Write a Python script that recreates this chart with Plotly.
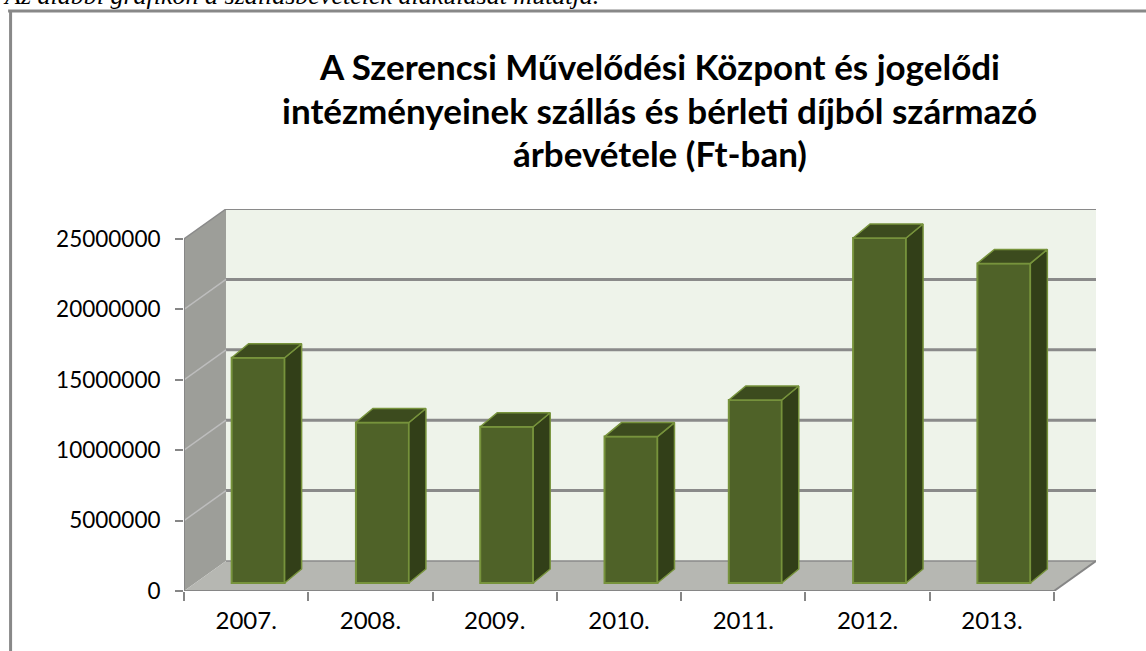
import plotly.graph_objects as go

# ---------------- data ----------------
categories = ["2007.", "2008.", "2009.", "2010.", "2011.", "2012.", "2013."]
revenue = [16000000, 11400000, 11100000, 10400000, 13000000, 24500000, 22700000]
y_tick_values = [0, 5000000, 10000000, 15000000, 20000000, 25000000]
y_tick_labels = ["0", "5000000", "10000000", "15000000", "20000000", "25000000"]
title_lines = [
    "A Szerencsi Művelődési Központ és jogelődi",
    "intézményeinek szállás és bérleti díjból származó",
    "árbevétele (Ft-ban)",
]
intro_text = "Az alábbi grafikon a szállásbevételek alakulását mutatja."

# ---------------- geometry (pixels) ----------------
W, H = 1146, 651
PL, PB = 184, 591            # front-plane origin in px
CAT_PX = 124.35              # px per category
VAL_PX = 14.08 / 1e6         # px per unit value
DEPTH_PX_X, DEPTH_PX_Y = 42, 30
FRONT_PX_X, FRONT_PX_Y = 12, 8
BAR_W_PX = 53
BAR_D_PX_X, BAR_D_PX_Y = 17, 14

n = len(categories)
ymax = y_tick_values[-1]
DX = DEPTH_PX_X / CAT_PX
DY = DEPTH_PX_Y / VAL_PX
x_range = [0, n + DX]
y_range = [0, ymax + DY]
plot_w = (n + DX) * CAT_PX
plot_h = (ymax + DY) * VAL_PX
PT = PB - plot_h
margin_r = W - PL - plot_w


def px2paper(px, py):
    return (px - PL) / plot_w, (PB - py) / plot_h


# colours
BACK_WALL = "#EEF3EA"
SIDE_WALL = "#9D9E99"
FLOOR = "#B6B7B2"
GRID = "#8A8A8A"
SIDE_GRID = "#BDBDBD"
AXIS = "#868686"
BAR_FRONT = "#4F6228"
BAR_SIDE = "#323F18"
BAR_TOP = "#3C4B1E"
BAR_EDGE = "#77933C"

shapes = []


def path(points):
    return "M " + " L ".join(f"{x},{y}" for x, y in points) + " Z"


# walls
shapes.append(dict(type="path", xref="x", yref="y", layer="below", line=dict(width=0),
                   fillcolor=BACK_WALL,
                   path=path([(DX, DY), (n + DX, DY), (n + DX, ymax + DY), (DX, ymax + DY)])))
shapes.append(dict(type="path", xref="x", yref="y", layer="below", line=dict(width=0),
                   fillcolor=SIDE_WALL,
                   path=path([(0, 0), (DX, DY), (DX, ymax + DY), (0, ymax)])))
shapes.append(dict(type="path", xref="x", yref="y", layer="below", line=dict(width=0),
                   fillcolor=FLOOR,
                   path=path([(0, 0), (n, 0), (n + DX, DY), (DX, DY)])))

# back wall grid lines
for v in y_tick_values[1:]:
    shapes.append(dict(type="line", xref="x", yref="y", layer="below",
                       x0=DX, x1=n + DX, y0=v + DY, y1=v + DY,
                       line=dict(color=GRID, width=3 if v < ymax else 2)))
shapes.append(dict(type="line", xref="x", yref="y", layer="below",
                   x0=DX, x1=n + DX, y0=DY, y1=DY, line=dict(color=GRID, width=1.5)))
# side wall grid lines
for v in y_tick_values[1:-1]:
    shapes.append(dict(type="line", xref="x", yref="y", layer="below",
                       x0=0, x1=DX, y0=v, y1=v + DY, line=dict(color=SIDE_GRID, width=1.5)))
# side wall top edge
shapes.append(dict(type="line", xref="x", yref="y", layer="below",
                   x0=0, x1=DX, y0=ymax, y1=ymax + DY, line=dict(color=GRID, width=1.5)))
# floor right edge
shapes.append(dict(type="line", xref="x", yref="y", layer="below",
                   x0=n, x1=n + DX, y0=0, y1=DY, line=dict(color=AXIS, width=2)))
# front axes lines
shapes.append(dict(type="line", xref="x", yref="y", layer="above",
                   x0=0, x1=0, y0=0, y1=ymax, line=dict(color=AXIS, width=2)))
shapes.append(dict(type="line", xref="x", yref="y", layer="above",
                   x0=0, x1=n, y0=0, y1=0, line=dict(color=AXIS, width=2)))

# outer frame (page border)
fx0, fy0 = px2paper(10.5, 11)
fx1, _ = px2paper(W + 5, 11)
_, fyb = px2paper(10.5, H + 5)
shapes.append(dict(type="line", xref="paper", yref="paper", x0=px2paper(8, 0)[0], x1=fx1,
                   y0=fy0, y1=fy0, line=dict(color="#888888", width=3)))
shapes.append(dict(type="line", xref="paper", yref="paper", x0=fx0, x1=fx0,
                   y0=fy0, y1=fyb, line=dict(color="#888888", width=3)))

# ---------------- bars ----------------
bw = BAR_W_PX / CAT_PX
bdx = BAR_D_PX_X / CAT_PX
bdy = BAR_D_PX_Y / VAL_PX
base = FRONT_PX_Y / VAL_PX
bar_x = [i + 0.5 + FRONT_PX_X / CAT_PX for i in range(n)]

side_x, side_y, top_x, top_y = [], [], [], []
for cx, v in zip(bar_x, revenue):
    xl, xr = cx - bw / 2, cx + bw / 2
    yb, yt = base, base + v
    side_x += [xr, xr, xr + bdx, xr + bdx, xr, None]
    side_y += [yb, yt, yt + bdy, yb + bdy, yb, None]
    top_x += [xl, xr, xr + bdx, xl + bdx, xl, None]
    top_y += [yt, yt, yt + bdy, yt + bdy, yt, None]

fig = go.Figure()
fig.add_trace(go.Scatter(x=side_x, y=side_y, mode="lines", fill="toself",
                         fillcolor=BAR_SIDE, line=dict(color=BAR_EDGE, width=1.5),
                         hoverinfo="skip", showlegend=False))
fig.add_trace(go.Scatter(x=top_x, y=top_y, mode="lines", fill="toself",
                         fillcolor=BAR_TOP, line=dict(color=BAR_EDGE, width=1.5),
                         hoverinfo="skip", showlegend=False))
fig.add_trace(go.Bar(x=bar_x, y=revenue, base=[base] * n, width=bw,
                     marker=dict(color=BAR_FRONT, line=dict(color=BAR_EDGE, width=2)),
                     hoverinfo="skip", showlegend=False))

# ---------------- annotations ----------------
annotations = []
title_centers_py = [66, 110, 153]
for line, py in zip(title_lines, title_centers_py):
    ax, ay = px2paper(660, py)
    annotations.append(dict(text=line, x=ax, y=ay, xref="paper", yref="paper",
                            xanchor="center", yanchor="middle", showarrow=False,
                            font=dict(family="Lato", size=35, color="#000000", weight="bold")))
ix, iy = px2paper(1, 12)
annotations.append(dict(text=intro_text, x=ix, y=iy, xref="paper", yref="paper",
                        xanchor="left", yanchor="bottom", showarrow=False,
                        font=dict(family="Liberation Serif", size=26, color="#000000",
                                  style="italic")))

fig.update_layout(
    width=W, height=H,
    margin=dict(l=PL, r=margin_r, t=PT, b=H - PB, pad=0),
    paper_bgcolor="white", plot_bgcolor="white",
    showlegend=False,
    shapes=shapes,
    annotations=annotations,
    xaxis=dict(range=x_range, showgrid=False, zeroline=False, showline=False,
               tickvals=[i + 0.5 for i in range(n)], ticktext=categories, ticks="",
               tickfont=dict(family="Lato", size=24, color="#000000"),
               ticklabelstandoff=13,
               minor=dict(ticks="outside", tick0=0, dtick=1, ticklen=9,
                          tickcolor=AXIS, tickwidth=2, showgrid=False)),
    yaxis=dict(range=y_range, showgrid=False, zeroline=False, showline=False,
               tickvals=y_tick_values, ticktext=y_tick_labels,
               ticks="outside", ticklen=8, tickcolor=AXIS, tickwidth=2,
               tickfont=dict(family="Lato", size=22.5, color="#000000"),
               ticklabelstandoff=10),
)

fig.write_html("out.html", post_script="document.body.style.margin='0';",
               config={"displayModeBar": False})
